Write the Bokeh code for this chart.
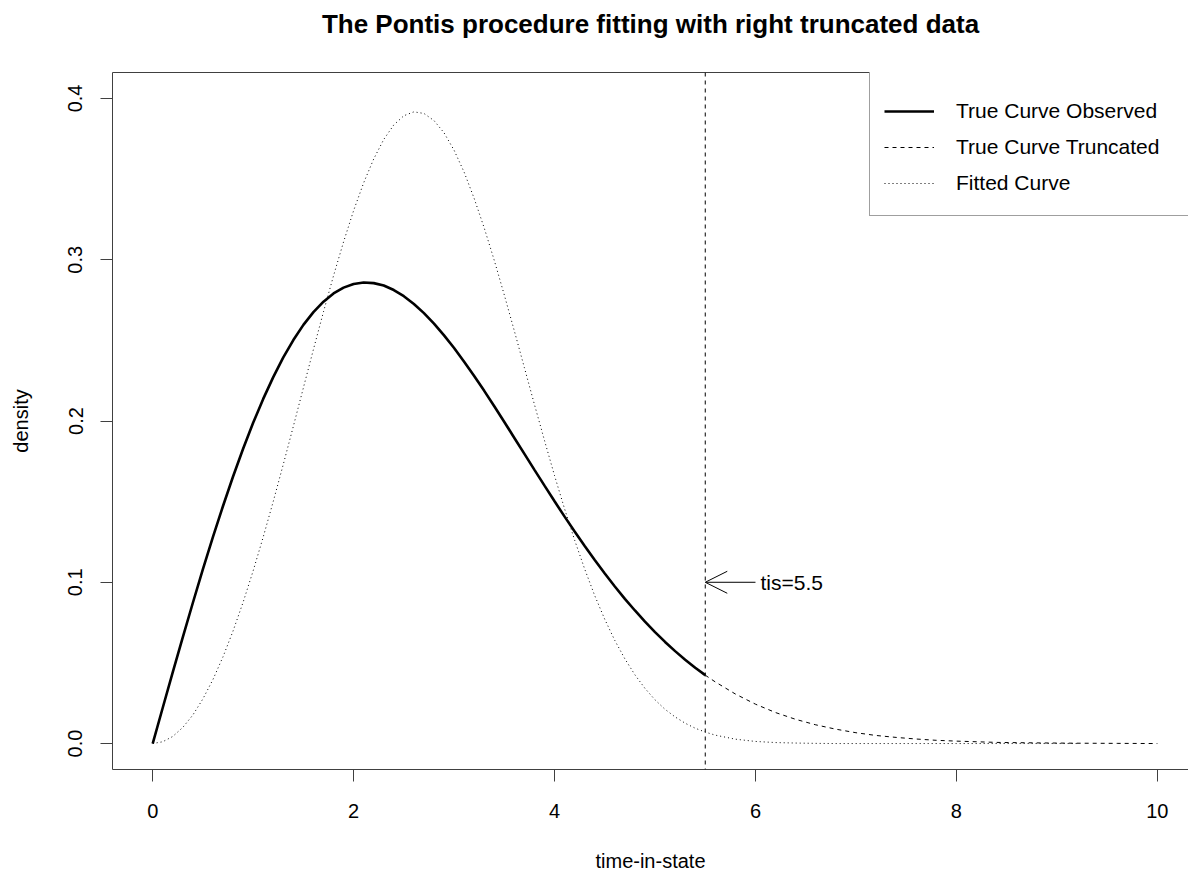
from bokeh.plotting import figure
from bokeh.models import (Range1d, Span, Arrow, OpenHead, Label, Legend, LegendItem,
                          FixedTicker, NumeralTickFormatter, LinearAxis)
from bokeh.embed import file_html
from bokeh.resources import INLINE

# --- data -------------------------------------------------------------
# true density, observed part (time-in-state <= tis)
obs_x = [0.0, 0.1, 0.2, 0.3, 0.4, 0.5, 0.6, 0.7, 0.8, 0.9, 1.0, 1.1, 1.2, 1.3,
         1.4, 1.5, 1.6, 1.7, 1.8, 1.9, 2.0, 2.1, 2.2, 2.3, 2.4, 2.5, 2.6, 2.7,
         2.8, 2.9, 3.0, 3.1, 3.2, 3.3, 3.4, 3.5, 3.6, 3.7, 3.8, 3.9, 4.0, 4.1,
         4.2, 4.3, 4.4, 4.5, 4.6, 4.7, 4.8, 4.9, 5.0, 5.1, 5.2, 5.3, 5.4, 5.5]
obs_y = [0.0, 0.0222, 0.0443, 0.0660, 0.0873, 0.1081, 0.1281, 0.1473, 0.1656,
         0.1828, 0.1989, 0.2137, 0.2272, 0.2394, 0.2502, 0.2596, 0.2675, 0.2740,
         0.2791, 0.2827, 0.2850, 0.2859, 0.2855, 0.2840, 0.2812, 0.2774, 0.2726,
         0.2669, 0.2604, 0.2531, 0.2453, 0.2368, 0.2279, 0.2187, 0.2091, 0.1994,
         0.1895, 0.1796, 0.1697, 0.1599, 0.1502, 0.1407, 0.1315, 0.1225, 0.1138,
         0.1054, 0.0974, 0.0897, 0.0825, 0.0756, 0.0691, 0.0630, 0.0573, 0.0520,
         0.0470, 0.0424]

# true density, truncated part (time-in-state > tis)
trunc_x = [5.5, 5.6, 5.8, 6.0, 6.2, 6.4, 6.6, 6.8, 7.0, 7.2, 7.4, 7.6, 7.8, 8.0,
           8.4, 8.8, 9.2, 9.6, 10.0]
trunc_y = [0.0424, 0.0382, 0.0307, 0.0244, 0.0192, 0.0150, 0.0116, 0.0089,
           0.0067, 0.0050, 0.0038, 0.0028, 0.0020, 0.0015, 0.0007, 0.0004,
           0.0002, 0.0001, 0.0000]

# fitted density
fit_x = [0.0, 0.1, 0.2, 0.3, 0.4, 0.5, 0.6, 0.7, 0.8, 0.9, 1.0, 1.1, 1.2, 1.3,
         1.4, 1.5, 1.6, 1.7, 1.8, 1.9, 2.0, 2.1, 2.2, 2.3, 2.4, 2.5, 2.6, 2.7,
         2.8, 2.9, 3.0, 3.1, 3.2, 3.3, 3.4, 3.5, 3.6, 3.7, 3.8, 3.9, 4.0, 4.1,
         4.2, 4.3, 4.4, 4.5, 4.6, 4.7, 4.8, 4.9, 5.0, 5.1, 5.2, 5.3, 5.4, 5.5,
         5.6, 5.8, 6.0, 6.2, 6.4, 6.6, 6.8, 7.0, 8.0, 9.2]
fit_y = [0.0, 0.0011, 0.0044, 0.0100, 0.0177, 0.0277, 0.0397, 0.0538, 0.0698,
         0.0876, 0.1071, 0.1280, 0.1501, 0.1731, 0.1967, 0.2206, 0.2444, 0.2677,
         0.2901, 0.3111, 0.3305, 0.3477, 0.3625, 0.3746, 0.3836, 0.3893, 0.3917,
         0.3907, 0.3863, 0.3787, 0.3679, 0.3543, 0.3380, 0.3197, 0.2996, 0.2781,
         0.2558, 0.2330, 0.2102, 0.1879, 0.1661, 0.1455, 0.1261, 0.1082, 0.0917,
         0.0770, 0.0639, 0.0525, 0.0426, 0.0342, 0.0271, 0.0212, 0.0165, 0.0126,
         0.0095, 0.0071, 0.0052, 0.0027, 0.0013, 0.0006, 0.0003, 0.0001, 0.0000,
         0.0000, 0.0000, 0.0000]

tis = 5.5
arrow_from = 6.0
arrow_y = 0.1

x_ticks = [0, 2, 4, 6, 8, 10]
y_ticks = [0.0, 0.1, 0.2, 0.3, 0.4]

TITLE = "The Pontis procedure fitting with right truncated data"
FONT = "Liberation Sans"
FRAME = "#404040"

# --- figure -----------------------------------------------------------
p = figure(width=1188, height=874, output_backend="svg", toolbar_location=None,
           x_range=Range1d(-0.4, 10.31), y_range=Range1d(-0.0161, 0.4161),
           min_border_left=112, min_border_right=0, min_border_top=72,
           min_border_bottom=105, background_fill_color="white",
           border_fill_color="white")

# plot box: left, bottom and top edges (right edge runs off the page)
p.outline_line_color = None
p.xgrid.visible = False
p.ygrid.visible = False

bottom = p.below[0]
left = p.left[0]

# top edge of the box; its label carries the main title
top = LinearAxis(ticker=FixedTicker(ticks=[]), axis_line_color=FRAME,
                 axis_line_width=1, major_tick_line_color=None,
                 minor_tick_line_color=None, major_label_text_font_size="0px",
                 major_tick_out=0, major_tick_in=0, major_label_standoff=0,
                 axis_label=TITLE, axis_label_text_font=FONT,
                 axis_label_text_font_size="26px",
                 axis_label_text_font_style="bold",
                 axis_label_text_color="black", axis_label_standoff=34)
p.add_layout(top, "above")

for ax in (bottom, left):
    ax.axis_line_color = FRAME
    ax.axis_line_width = 1
    ax.major_tick_in = 0
    ax.major_tick_out = 12
    ax.major_tick_line_color = FRAME
    ax.minor_tick_line_color = None
    ax.major_label_text_font = FONT
    ax.major_label_text_font_size = "20px"
    ax.major_label_text_color = "black"
    ax.axis_label_text_font = FONT
    ax.axis_label_text_font_size = "20px"
    ax.axis_label_text_font_style = "normal"
    ax.axis_label_text_color = "black"

bottom.ticker = FixedTicker(ticks=x_ticks)
left.ticker = FixedTicker(ticks=y_ticks)
left.formatter = NumeralTickFormatter(format="0.0")
left.major_label_orientation = "vertical"
bottom.major_label_standoff = 22
left.major_label_standoff = 18
bottom.axis_label = "time-in-state"
left.axis_label = "density"
bottom.axis_label_standoff = 29
left.axis_label_standoff = 34

# --- curves -----------------------------------------------------------
r_obs = p.line(obs_x, obs_y, line_color="black", line_width=2.6)
r_trunc = p.line(trunc_x, trunc_y, line_color="black", line_width=1, line_dash="4 4")
r_fit = p.line(fit_x, fit_y, line_color="black", line_width=1, line_dash="1 3")

# truncation point
p.add_layout(Span(location=tis, dimension="height", line_color="black",
                  line_width=1, line_dash="4 4"))
p.add_layout(Arrow(end=OpenHead(size=22, line_color="black", line_width=1),
                   x_start=arrow_from, y_start=arrow_y, x_end=tis, y_end=arrow_y,
                   line_color="black", line_width=1))
p.add_layout(Label(x=arrow_from, y=arrow_y, text=f"tis={tis}", x_offset=5,
                   text_baseline="middle", text_align="left", text_font=FONT,
                   text_font_size="21px", text_color="black"))

# --- legend -----------------------------------------------------------
legend = Legend(items=[
    LegendItem(label="True Curve Observed", renderers=[r_obs]),
    LegendItem(label="True Curve Truncated", renderers=[r_trunc]),
    LegendItem(label="Fitted Curve", renderers=[r_fit]),
])
# a blank title only adds a little room above the first entry
legend.title = " "
legend.title_text_font_size = "6px"
legend.title_standoff = 2
legend.margin = 0
legend.padding = 14
legend.spacing = 0
legend.glyph_width = 50
legend.glyph_height = 36
legend.label_height = 36
legend.label_width = 240
legend.label_standoff = 22
legend.label_text_font = FONT
legend.label_text_font_size = "21px"
legend.label_text_color = "black"
legend.border_line_color = FRAME
legend.border_line_width = 1
legend.background_fill_color = "white"
legend.background_fill_alpha = 1.0
# box anchored at the frame top, 757 px in from the frame's left edge
legend.location = (757, 697 - 144)
p.add_layout(legend)

open("out.html", "w").write(file_html(p, INLINE))
